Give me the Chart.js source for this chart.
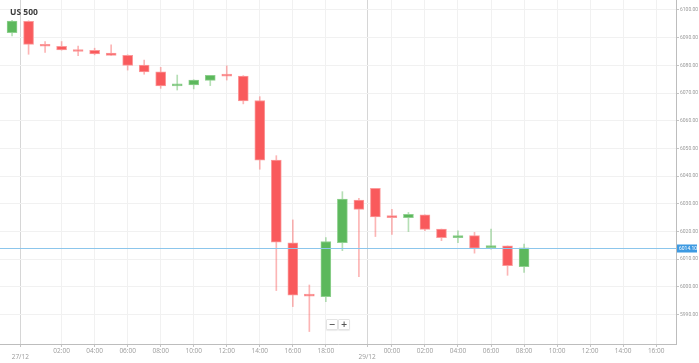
<!DOCTYPE html>
<html>
<head>
<meta charset="utf-8">
<script src="https://cdn.jsdelivr.net/npm/chart.js@4/dist/chart.umd.min.js"></script>
<style>
    html, body { margin: 0; padding: 0; background: #fff; }
    #wrap { position: relative; width: 699px; height: 363px; }
    #title { position: absolute; left: 10px; top: 6px; font: bold 8.5px "Open Sans", sans-serif; color: #3c3c3c; }
    .zoom-btn {
        position: absolute; top: 319px; width: 10px; height: 9px;
        border: 1px solid #e4e4e4; background: #fff; border-radius: 1px;
        font: bold 8px "DejaVu Sans", sans-serif; line-height: 9px; text-align: center; color: #555;
        box-shadow: 0 1px 1px rgba(0, 0, 0, .08);
    }
</style>
</head>
<body>
<div id="wrap">
    <canvas id="chart" width="699" height="363"></canvas>
    <div id="title">US 500</div>
    <div class="zoom-btn" style="left:326px">−</div>
    <div class="zoom-btn" style="left:338px">+</div>
</div>
<script>
// hourly candles, 26/12 23:00 -> 27/12 20:00, then 29/12 23:00 -> 30/12 08:00
const opens  = [6091.8, 6095.9, 6087.6, 6086.9, 6085.7, 6085.4, 6084.4, 6083.6, 6080.1, 6077.7,
                6072.6, 6072.9, 6074.6, 6076.8, 6076.1, 6067.3, 6045.8, 6015.9, 5997.0, 5996.5,
                6016.0, 6031.4, 6035.6, 6025.5, 6025.0, 6026.0, 6020.9, 6017.8, 6018.5, 6014.2,
                6014.8, 6007.3];
const highs  = [6096.3, 6096.1, 6088.6, 6088.6, 6087.0, 6086.2, 6087.4, 6083.8, 6081.9, 6079.3,
                6076.5, 6074.8, 6076.4, 6079.8, 6076.3, 6068.7, 6047.4, 6024.2, 6000.7, 6017.8,
                6034.4, 6032.0, 6035.6, 6028.0, 6026.9, 6026.0, 6020.9, 6020.3, 6019.7, 6020.9,
                6014.8, 6015.5];
const lows   = [6090.6, 6084.0, 6084.7, 6085.5, 6083.5, 6083.8, 6083.6, 6078.3, 6076.8, 6071.7,
                6071.1, 6071.5, 6072.7, 6074.7, 6066.1, 6042.5, 5998.7, 5992.9, 5983.9, 5994.7,
                6013.1, 6003.7, 6018.2, 6019.0, 6020.0, 6020.3, 6016.7, 6016.0, 6012.2, 6013.6,
                6004.2, 6005.2];
const closes = [6096.0, 6087.6, 6086.9, 6085.6, 6085.0, 6084.1, 6083.6, 6080.0, 6077.6, 6072.6,
                6073.3, 6074.7, 6076.4, 6076.1, 6067.2, 6045.8, 6016.2, 5997.0, 5996.7, 6016.4,
                6031.7, 6028.0, 6025.3, 6025.0, 6026.2, 6020.8, 6017.8, 6018.4, 6014.0, 6014.9,
                6007.7, 6014.1];

// x ticks (candle index) and their labels
const tickPositions = [0.5, 3, 5, 7, 9, 11, 13, 15, 17, 19, 21.5, 23, 25, 27, 29, 31, 33, 35, 37, 39];
const tickLabels = ['27/12', '02:00', '04:00', '06:00', '08:00', '10:00', '12:00', '14:00', '16:00', '18:00',
                    '29/12', '00:00', '02:00', '04:00', '06:00', '08:00', '10:00', '12:00', '14:00', '16:00'];
const priceTicks = [5990, 6000, 6010, 6020, 6030, 6040, 6050, 6060, 6070, 6080, 6090, 6100];
const lastPrice = 6014.10;

const upColor = '#5cb85c';
const downColor = '#f95a5c';

const isUp = opens.map((o, i) => closes[i] >= o);
const bodies = opens.map((o, i) => ({x: i, y: [o, closes[i]]}));
const wicks = lows.map((l, i) => ({x: i, y: [l, highs[i]]}));

const priceLine = {
    id: 'priceLine',
    afterDatasetsDraw(chart) {
        const {ctx, chartArea, scales: {y}} = chart;
        const py = Math.round(y.getPixelForValue(lastPrice)) + 0.5;
        ctx.save();
        ctx.strokeStyle = '#8cc6ec';
        ctx.lineWidth = 1;
        ctx.beginPath();
        ctx.moveTo(chartArea.left, py);
        ctx.lineTo(chartArea.right, py);
        ctx.stroke();
        ctx.fillStyle = '#3d9ae2';
        ctx.fillRect(chartArea.right + 1, py - 4, 20, 8);
        ctx.fillStyle = '#fff';
        ctx.font = '5px Roboto';
        ctx.textBaseline = 'middle';
        ctx.fillText(lastPrice.toFixed(2), chartArea.right + 3, py);
        ctx.restore();
    }
};

new Chart(document.getElementById('chart'), {
    type: 'bar',
    data: {
        datasets: [
            {
                data: bodies,
                backgroundColor: isUp.map(u => u ? upColor : downColor),
                borderColor: isUp.map(u => u ? '#8fd08f' : '#fb9a9b'),
                borderWidth: 1,
                borderSkipped: false,
                barThickness: 10,
                minBarLength: 2,
                grouped: false,
                order: 0
            },
            {
                data: wicks,
                backgroundColor: isUp.map(u => u ? 'rgba(92,184,92,0.45)' : 'rgba(249,90,92,0.45)'),
                borderWidth: 0,
                barThickness: 1,
                grouped: false,
                order: 1
            }
        ]
    },
    options: {
        responsive: false,
        animation: false,
        layout: {padding: 0},
        plugins: {
            legend: {display: false},
            tooltip: {enabled: false}
        },
        scales: {
            x: {
                type: 'linear',
                offset: false,
                min: -0.73,
                max: 40.2,
                afterBuildTicks: scale => {
                    scale.ticks = tickPositions.map(v => ({value: v}));
                },
                afterFit: scale => {
                    scale.height = 19;
                    scale.paddingLeft = 0;
                    scale.paddingRight = 0;
                },
                ticks: {
                    autoSkip: false,
                    maxRotation: 0,
                    padding: 1,
                    color: '#9a9a9a',
                    font: {size: 6.5, family: 'Open Sans', lineHeight: 0.95},
                    callback: value => {
                        const label = tickLabels[tickPositions.indexOf(value)];
                        return label.includes('/') ? ['', label] : label;
                    }
                },
                grid: {
                    offset: false,
                    color: ctx => (ctx.tick && ctx.tick.value % 1 !== 0) ? '#d6d6d6' : '#f1f1f1',
                    tickColor: '#c4c4c4',
                    tickLength: 3
                },
                border: {color: '#bdbdbd'}
            },
            y: {
                position: 'right',
                min: 5979.4,
                max: 6103.6,
                afterBuildTicks: scale => {
                    scale.ticks = priceTicks.map(v => ({value: v}));
                },
                afterFit: scale => {
                    scale.width = 23;
                    scale.paddingTop = 0;
                    scale.paddingBottom = 0;
                },
                ticks: {
                    padding: 1,
                    color: '#9a9a9a',
                    font: {size: 5, family: 'Roboto'},
                    callback: value => value.toFixed(2)
                },
                grid: {
                    color: '#f1f1f1',
                    tickColor: '#c4c4c4',
                    tickLength: 3
                },
                border: {color: '#bdbdbd'}
            }
        }
    },
    plugins: [priceLine]
});
</script>
</body>
</html>
